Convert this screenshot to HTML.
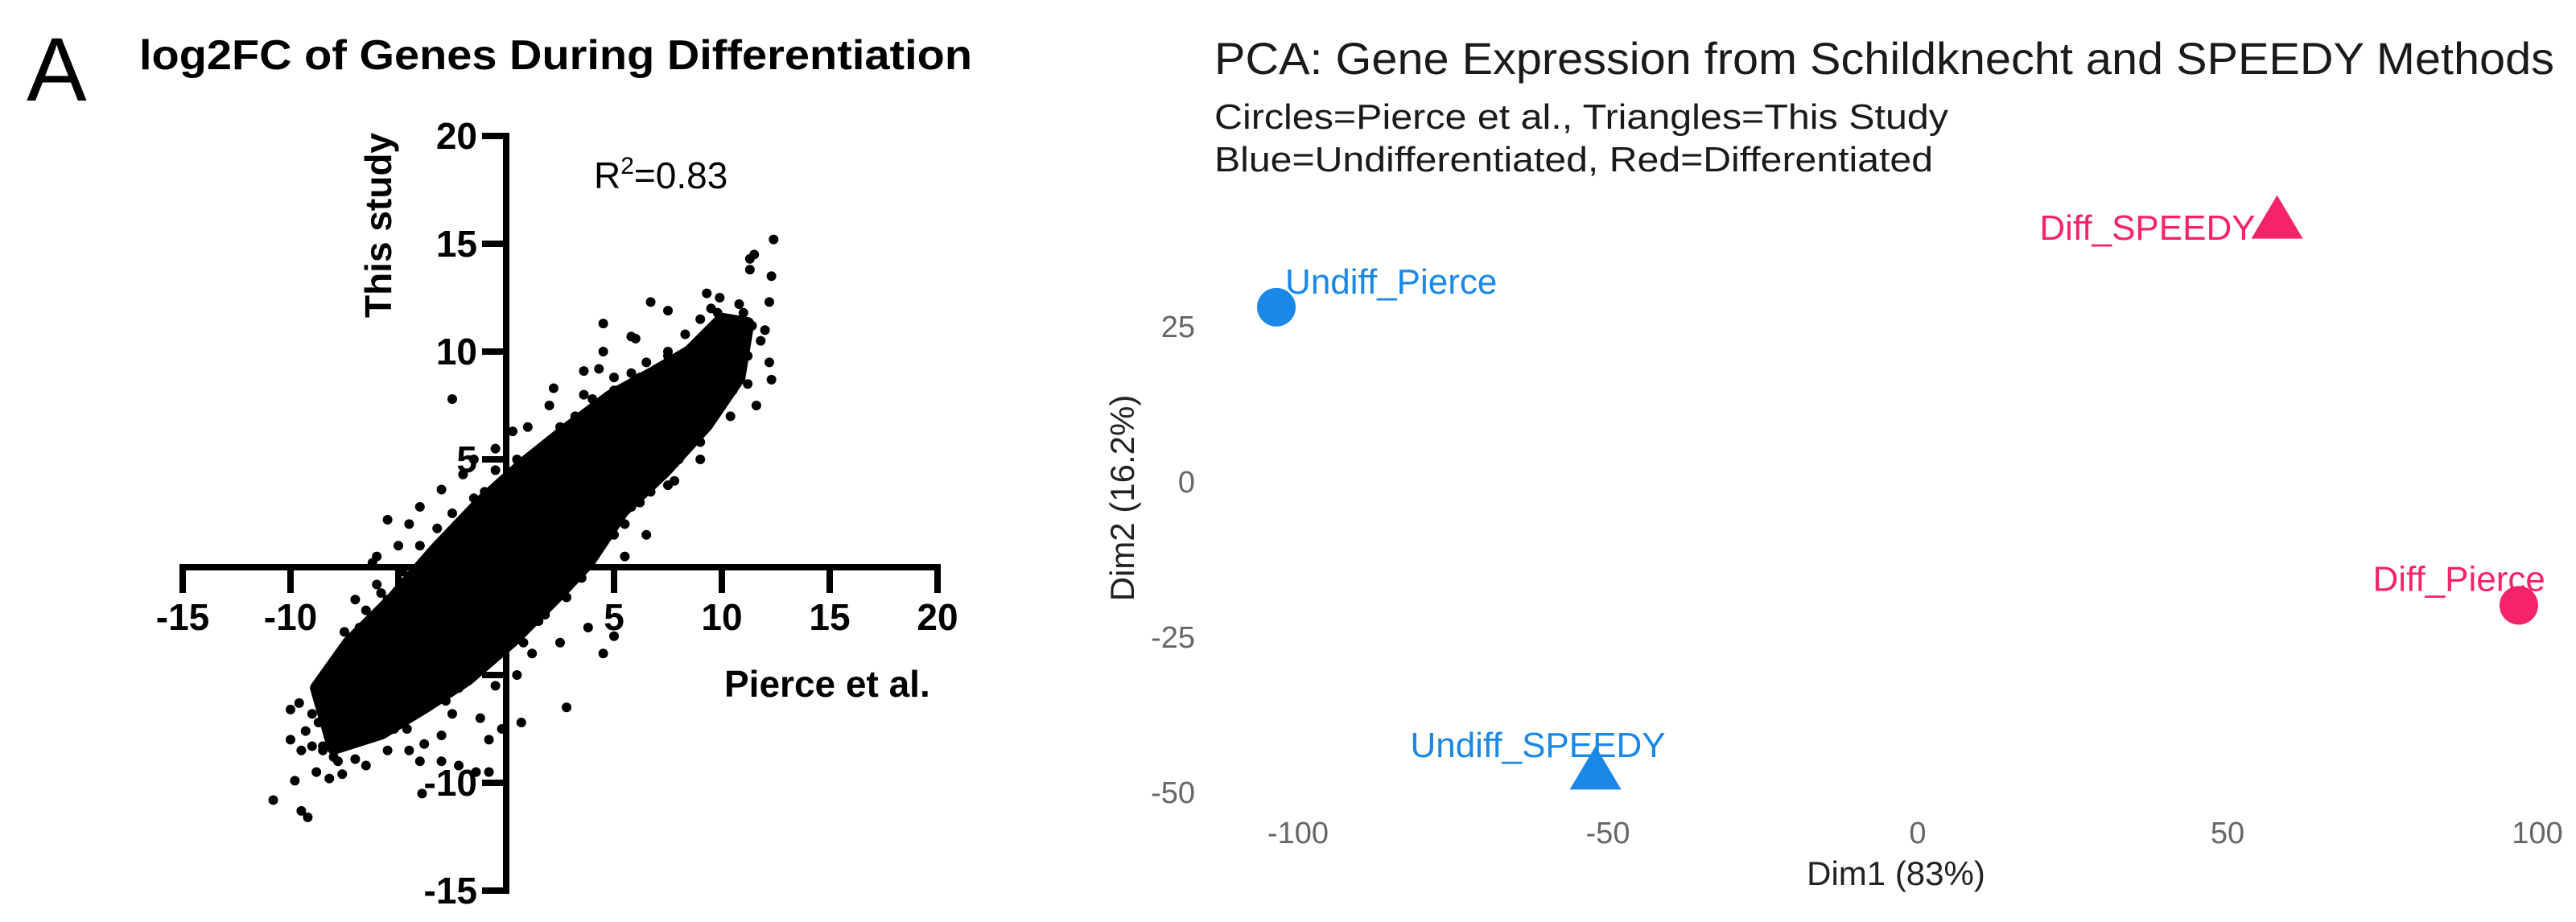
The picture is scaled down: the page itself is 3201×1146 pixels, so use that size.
<!DOCTYPE html>
<html><head><meta charset="utf-8"><style>
html,body{margin:0;padding:0;background:#fff;}
svg{display:block;}
</style></head><body>
<svg id="fig" width="3201" height="1146" viewBox="0 0 3201 1146" xmlns="http://www.w3.org/2000/svg">
<g id="panelA" font-family="Liberation Sans, Arial, sans-serif">
  <text x="33" y="125" font-size="112">A</text>
  <text x="173" y="86" font-size="52" font-weight="bold" textLength="1035" lengthAdjust="spacingAndGlyphs">log2FC of Genes During Differentiation</text>
  <text x="738" y="234" font-size="46">R<tspan dy="-18" font-size="30">2</tspan><tspan dy="18">=0.83</tspan></text>
  <text transform="translate(486,280) rotate(-90)" text-anchor="middle" font-size="46" font-weight="bold">This study</text>
  <text x="900" y="866" font-size="46" font-weight="bold">Pierce et al.</text>
  <g id="aMarks"></g>
  <g id="aAxes"></g>
</g>
<g id="panelB" font-family="Liberation Sans, Arial, sans-serif">
  <text x="1509" y="92" font-size="56" fill="#1a1a1a" textLength="1665" lengthAdjust="spacingAndGlyphs">PCA: Gene Expression from Schildknecht and SPEEDY Methods</text>
  <text x="1509" y="160" font-size="44" fill="#1a1a1a" textLength="912" lengthAdjust="spacingAndGlyphs">Circles=Pierce et al., Triangles=This Study</text>
  <text x="1509" y="213" font-size="44" fill="#1a1a1a" textLength="893" lengthAdjust="spacingAndGlyphs">Blue=Undifferentiated, Red=Differentiated</text>
  <text x="2356" y="1100" text-anchor="middle" font-size="42" fill="#222">Dim1 (83%)</text>
  <text transform="translate(1409,619) rotate(-90)" text-anchor="middle" font-size="42" fill="#222">Dim2 (16.2%)</text>
  <g id="bAxes"></g>
  <g id="bMarks"></g>
</g>
</svg>
<script>
// ---------- Panel A data ----------
const aXTicks = [-15, -10, -5, 5, 10, 15, 20];
const aXTickLabels = ["-15", "-10", "", "5", "10", "15", "20"];
const aYTicks = [20, 15, 10, 5, -5, -10, -15];
const aYTickLabels = ["20", "15", "10", "5", "", "-10", "-15"];
// dense core of the scatter (Pierce log2FC, This study log2FC) outline
const coreX = [-8.8,-7.3,-5.3,-3.3,-1.2,0.8,2.8,4.8,6.8,8.5,10,11.2,10.8,9.3,7.4,5.4,3.8,2.3,0.3,-1.8,-3.8,-5.8,-8];
const coreY = [-5.6,-3.5,-1.5,0.8,3,4.8,6.4,7.9,9,10,11.5,11.3,8.8,6.6,4.5,2.6,0.2,-1.4,-3.4,-5.2,-6.5,-7.7,-8.4];
// individual gene points (outside the dense core)
const pierceFC = [12.4,11.5,11.3,12.3,11.3,12.2,9.3,9.9,10.8,11,11.4,12,11.8,12.2,12.3,11.6,11.2,10.4,8.5,9,8,7.3,7.8,6.7,7,5.8,5,6.5,5.5,
 4.5,6.7,7.5,5.8,6,4.5,3.6,4.3,5,2.2,3.6,1,2,0.3,-0.5,-2.5,-3,-2,-1,-1.5,-4.5,-4,-5,-6,
 0,1.5,3.8,5,4.5,2.5,1.2,0.5,-0.5,2.8,0.7,-0.2,-0.8,-1.2,-2.5,-3,-3.8,-4.5,-5.5,-4,-3,-2.2,-1.4,-0.8,-3.9,
 -10.8,-9.5,-9.2,-9.8,-9.5,-10,-9,-8.5,-8,-9.3,-8.7,-10,-9.6,-9,-8.2,-7.8,-7.3,-7.5,-6.9,-6.5,-7,-6,-5.5,-6.2,-5.5,-7.8,-7,-6.5,-8.8,-8.2,-7.6,-5.8,-6.5,-5,
 9.5,10.2,8.8,10.8,9.7,7.5,6.2,3,-1.8,-3.4,-5.2,-6.8,-7.6,-2.8,-4.6,1.8,3.2,
 -8,-7.5,-6.8,-5.8,-4.8,-4,-3.2,-2.5,-1.5,-0.5,0.5,1.5,2.5,3.2,4,5,5.8,6.5,7.5,8.3,9,9.8,
 -8.5,-7.5,-6.5,-5.2,-4.5,-3.2,-2.2,-1,0.8,1.8,2.8,3.5,4.2,5.5,6.2,7.5,8,9,9.8,10.5,11.2];
const thisStudyFC = [15.2,14.5,14.3,13.5,13.8,12.3,12.7,12.5,12.2,11.8,11.2,11,10.5,9.5,8.7,7.5,8.5,7,6,5,5.5,4.5,4,3.5,5.3,2.8,1.5,1.5,0.5,
 11.3,12.3,11.9,10.7,10.6,10,9.1,9.2,8.8,8.3,8,6.5,7.5,6.3,5.5,7.8,3.6,4.3,3.5,5,2,2.8,1,0.5,
 -3,-2.5,-2.8,-3.2,-4,-3.5,-4,-5,-5.5,-6.5,-7.2,-7.5,-8,-7,-6.8,-7.8,-8.2,-8.5,-8.5,-9,-9,-9.2,-9.5,-9.5,-10.5,
 -10.8,-11.3,-11.6,-9.9,-8.5,-8,-8.3,-8.5,-8.8,-7.6,-7.2,-6.6,-6.3,-6.8,-6.2,-5.5,-5,-3.8,-3.2,-2,-1.5,-0.8,-1.5,0.2,2.2,-9,-8.9,-9.2,-9.5,-9.8,-9.6,-7,-6.8,-6.5,
 12,11.5,10,9.8,8.2,9.8,8.8,5.2,1.2,-1.6,-3,-4.5,-6,-6.2,-7.5,-2.2,4.1,
 -4.5,-3,-2.8,-1.2,-0.2,1,1.8,2.5,3.2,4.5,5,5.3,6.5,7,7.8,8.2,9,9.5,10,10.8,11.5,11.8,
 -8.3,-8.2,-7.9,-7.5,-6.8,-6,-5.6,-4.6,-3.5,-2.2,-1.4,-0.5,0.8,2,3,3.8,5,5.8,7.5,8.2,9.8];

// ---------- Panel B data ----------
const sampleNames = ["Undiff_Pierce", "Diff_SPEEDY", "Diff_Pierce", "Undiff_SPEEDY"];
const dim1 = [-103.5, 58, 97, -52];
const dim2 = [28, 41.7, -20, -47];
const sampleState = ["undiff", "diff", "diff", "undiff"];
const sampleMethod = ["pierce", "speedy", "pierce", "speedy"];
const bXTicks = [-100, -50, 0, 50, 100];
const bYTicks = [25, 0, -25, -50];

const NS = "http://www.w3.org/2000/svg";
function mk(tag, attrs, parent){
  const e = document.createElementNS(NS, tag);
  for (const k in attrs) e.setAttribute(k, attrs[k]);
  parent.appendChild(e);
  return e;
}

// Panel A scales
const ax = v => 629 + 26.8 * v;
const ay = v => 705 - 26.8 * v;
const aMarks = document.getElementById('aMarks');
const aAxes = document.getElementById('aAxes');

const corePts = coreX.map((x, i) => ax(x).toFixed(1) + ',' + ay(coreY[i]).toFixed(1)).join(' ');
const core = mk('polygon', {points: corePts, fill: '#000', stroke: '#000', 'stroke-width': 16, 'stroke-linejoin': 'round'}, aMarks);



pierceFC.forEach((x, i) => {
  const c = mk('circle', {cx: ax(x), cy: ay(thisStudyFC[i]), r: 6, fill: '#000'}, aMarks);
  
  
});

// axes
const xAxisLine = mk('line', {x1: ax(-15), y1: ay(0), x2: ax(20), y2: ay(0), stroke: '#000', 'stroke-width': 8}, aAxes);


const yAxisLine = mk('line', {x1: ax(0), y1: ay(20), x2: ax(0), y2: ay(-15), stroke: '#000', 'stroke-width': 8}, aAxes);


aXTicks.forEach((t, i) => {
  const tk = mk('line', {x1: ax(t), y1: ay(0) - 4, x2: ax(t), y2: ay(0) + 32, stroke: '#000', 'stroke-width': 8}, aAxes);
  
  
  const lb = mk('text', {x: ax(t), y: ay(0) + 78, 'text-anchor': 'middle', 'font-size': 46, 'font-weight': 'bold'}, aAxes);
  lb.textContent = aXTickLabels[i];
  
  
});
aYTicks.forEach((t, i) => {
  const tk = mk('line', {x1: ax(0) - 30, y1: ay(t), x2: ax(0) + 4, y2: ay(t), stroke: '#000', 'stroke-width': 8}, aAxes);
  
  
  const lb = mk('text', {x: ax(0) - 36, y: ay(t) + 16, 'text-anchor': 'end', 'font-size': 46, 'font-weight': 'bold'}, aAxes);
  lb.textContent = aYTickLabels[i];
  
  
});

// Panel B scales
const bx = v => 2383 + 7.7 * v;
const by = v => 598 - 7.72 * v;
const bAxes = document.getElementById('bAxes');
const bMarks = document.getElementById('bMarks');
const BLUE = '#1a88e6', RED = '#f5236a';
bXTicks.forEach(t => {
  const lb = mk('text', {x: bx(t), y: 1048, 'text-anchor': 'middle', 'font-size': 38, fill: '#666'}, bAxes);
  lb.textContent = String(t);
  
  
});
bYTicks.forEach(t => {
  const lb = mk('text', {x: 1485, y: by(t) + 14, 'text-anchor': 'end', 'font-size': 38, fill: '#666'}, bAxes);
  lb.textContent = String(t);
  
  
});
sampleNames.forEach((name, i) => {
  const cx = bx(dim1[i]), cy = by(dim2[i]);
  const col = sampleState[i] === 'undiff' ? BLUE : RED;
  let m;
  if (sampleMethod[i] === 'pierce') {
    m = mk('circle', {cx: cx, cy: cy, r: 24, fill: col}, bMarks);
  } else {
    const h = 54, w = 64;
    m = mk('polygon', {points: `${cx},${cy - h*0.62} ${cx - w/2},${cy + h*0.38} ${cx + w/2},${cy + h*0.38}`, fill: col}, bMarks);
  }
  
  
  let lx, ly, anchor;
  if (name === 'Undiff_Pierce') { lx = cx + 11; ly = cy - 17; anchor = 'start'; }
  else if (name === 'Undiff_SPEEDY') { lx = cx + 87; ly = cy - 20; anchor = 'end'; }
  else if (name === 'Diff_SPEEDY') { lx = cx - 27; ly = cy + 22; anchor = 'end'; }
  else { lx = cx + 33; ly = cy - 18; anchor = 'end'; }
  const tl = mk('text', {x: lx, y: ly, 'text-anchor': anchor, 'font-size': 44, fill: col}, bMarks);
  tl.textContent = name;
  
  
});
</script>
</body></html>
